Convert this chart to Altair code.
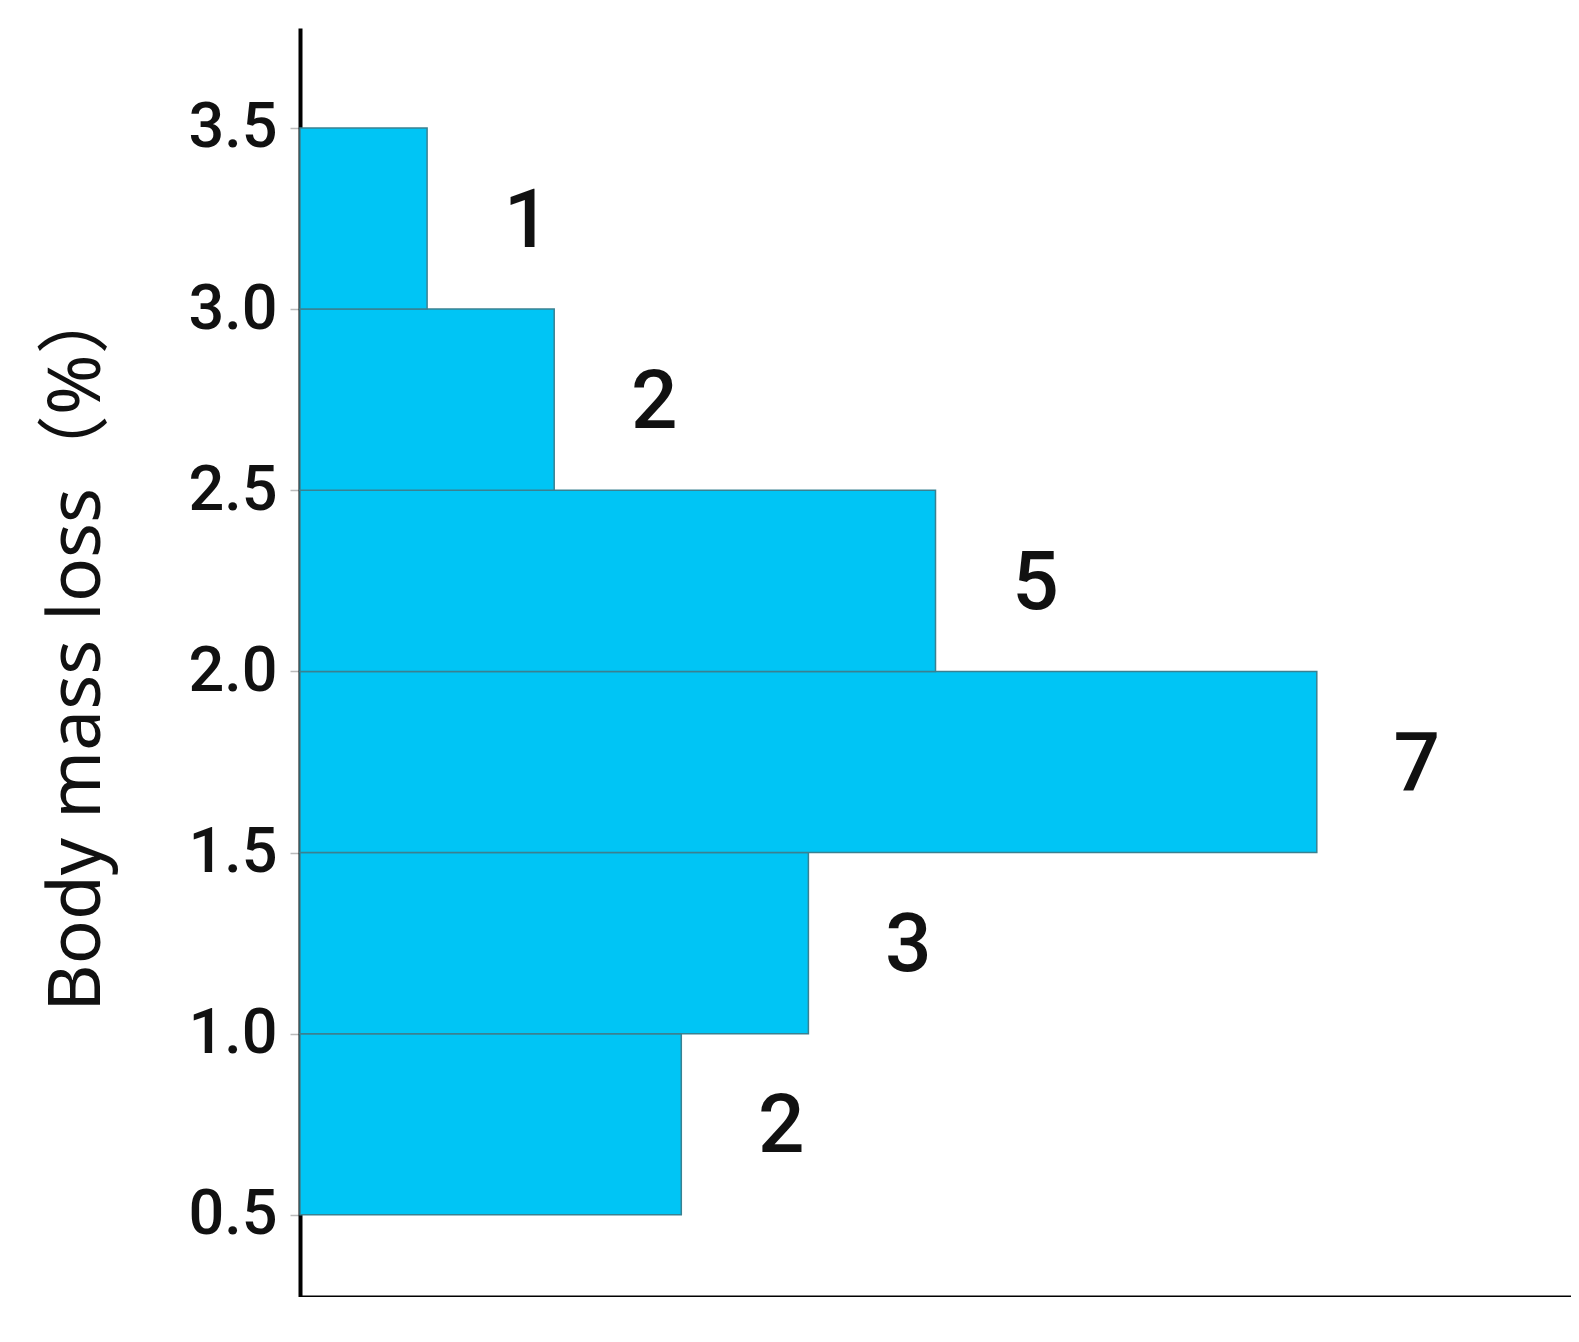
import altair as alt
import pandas as pd

bin_start = [0.5, 1.0, 1.5, 2.0, 2.5, 3.0]
bin_end = [1.0, 1.5, 2.0, 2.5, 3.0, 3.5]
bar_length = [3, 4, 8, 5, 2, 1]
counts = [2, 3, 7, 5, 2, 1]
y_ticks = [0.5, 1.0, 1.5, 2.0, 2.5, 3.0, 3.5]

df = pd.DataFrame({
    "start": bin_start,
    "end": bin_end,
    "length": bar_length,
    "count": counts,
})

x_scale = alt.Scale(domain=[0, 10], nice=False, zero=True)
y_scale = alt.Scale(domain=[0.273, 3.776], nice=False, zero=False)

base = alt.Chart(df)

bars = base.mark_bar(
    color="#00C5F5", stroke="#3a8191", strokeWidth=1.5
).encode(
    x=alt.X("length:Q", scale=x_scale,
            axis=alt.Axis(title=None, labels=False, ticks=False, grid=False,
                          domainColor="black", domainWidth=4)),
    x2=alt.datum(0),
    y=alt.Y("start:Q", scale=y_scale,
            axis=alt.Axis(values=y_ticks, format=".1f", grid=False,
                          title="Body mass loss（%）",
                          titleFont="'Noto Sans', 'Noto Sans CJK SC'",
                          titleFontSize=73, titleFontWeight="normal",
                          titleColor="#111111", titleAngle=270,
                          titleAlign="center", titleBaseline="alphabetic",
                          titleX=-201, titleY=618,
                          labelFont="Roboto", labelFontSize=63,
                          labelFontWeight=500, labelColor="#111111",
                          labelPadding=13, tickSize=10, tickColor="#bbbbbb",
                          tickWidth=1.5,
                          domainColor="black", domainWidth=4)),
    y2="end:Q",
)

labels = base.transform_calculate(
    mid="(datum.start + datum.end) / 2"
).mark_text(
    font="Roboto", fontSize=82, fontWeight=500, color="#111111",
    align="center", baseline="middle", dx=100, dy=3
).encode(
    x=alt.X("length:Q", scale=x_scale),
    y=alt.Y("mid:Q", scale=y_scale),
    text="count:Q",
)

chart = (bars + labels).properties(
    width=1271, height=1269,
    autosize="none",
    background="white",
    padding={"left": 292, "top": 20, "right": 0, "bottom": 0},
).configure_view(strokeWidth=0)

chart.save("out.html", embed_options={"renderer": "svg", "actions": False})
